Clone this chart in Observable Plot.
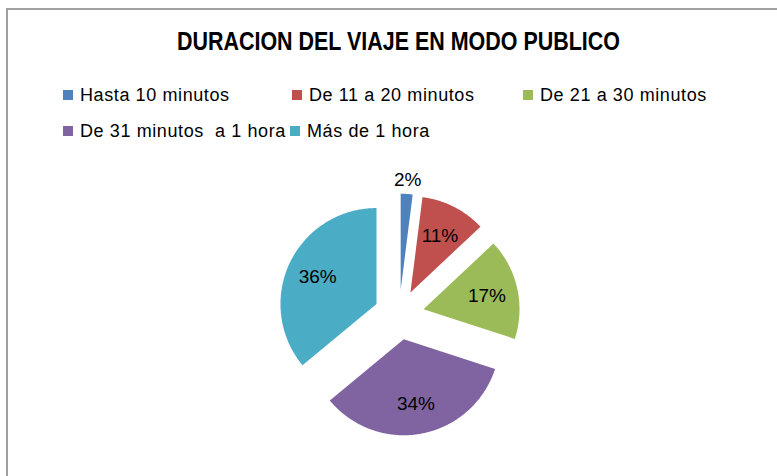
<!DOCTYPE html>
<html>
<head>
<meta charset="utf-8">
<script src="https://cdn.jsdelivr.net/npm/d3@7"></script>
<script src="https://cdn.jsdelivr.net/npm/@observablehq/plot@0.6"></script>
<style>
  html, body { margin: 0; padding: 0; background: #fff; width: 777px; height: 476px; overflow: hidden; position: relative; }
  #frame { position: absolute; left: 6px; top: 8px; width: 820px; height: 520px; border-top: 2px solid #a0a0a0; border-left: 2px solid #a0a0a0; box-sizing: border-box; }
  #titlewrap { position: absolute; left: 0; top: 28px; width: 797px; text-align: center; }
  #title { display: inline-block; transform: scaleX(0.825); transform-origin: center; font-family: "Liberation Sans", Arial, sans-serif; font-weight: bold; font-size: 26px; line-height: 26px; color: #000; white-space: pre; }
  .leg { position: absolute; font-family: "Liberation Sans", Arial, sans-serif; font-size: 18px; line-height: 18px; letter-spacing: 0.6px; color: #000; white-space: pre; display: flex; align-items: center; }
  .sw { width: 10px; height: 10px; margin-right: 7px; flex: none; }
  #chart { position: absolute; left: 0; top: 160px; }
</style>
</head>
<body>
<div id="frame"></div>
<div id="titlewrap"><span id="title"></span></div>
<div id="legend"></div>
<div id="chart"></div>
<script>
// ---- data ----
const title = "DURACION DEL VIAJE EN MODO PUBLICO";
const categories = ["Hasta 10 minutos", "De 11 a 20 minutos", "De 21 a 30 minutos", "De 31 minutos  a 1 hora", "Más de 1 hora"];
const values = [2, 11, 17, 34, 36];
const labels = ["2%", "11%", "17%", "34%", "36%"];
const colors = ["#4F81BD", "#C0504D", "#9BBB59", "#8064A2", "#4BACC6"];

// ---- title ----
document.getElementById("title").textContent = title;

// ---- legend (HTML, Excel-like layout) ----
const legend = document.getElementById("legend");
const legendPos = [[63, 86], [292, 86], [523, 86], [63, 122], [290, 122]];
categories.forEach((c, i) => {
  const d = document.createElement("div");
  d.className = "leg";
  d.style.left = legendPos[i][0] + "px";
  d.style.top = legendPos[i][1] + "px";
  const s = document.createElement("span");
  s.className = "sw";
  s.style.background = colors[i];
  d.appendChild(s);
  const t = document.createElement("span");
  t.textContent = c;
  d.appendChild(t);
  legend.appendChild(d);
});

// ---- pie geometry (in radius units) ----
const W = 777, H = 300;
const R = 96;            // pixel radius
const cx = 398.6, cy = 154.2; // pie center in svg px
const explode = 25 / R;  // explosion offset
const labelDist = 65 / R;
const outerLabelDist = 111 / R;

const arcs = d3.pie().sort(null).value(d => d)(values);
const polys = [];
const labelData = [];
arcs.forEach((a, i) => {
  const mid = (a.startAngle + a.endAngle) / 2;
  const ox = explode * Math.sin(mid), oy = explode * Math.cos(mid);
  polys.push({x: ox, y: oy, k: categories[i]});
  const n = Math.max(4, Math.ceil((a.endAngle - a.startAngle) / 0.01));
  for (let j = 0; j <= n; j++) {
    const t = a.startAngle + (a.endAngle - a.startAngle) * j / n;
    polys.push({x: ox + Math.sin(t), y: oy + Math.cos(t), k: categories[i]});
  }
  polys.push({x: ox, y: oy, k: categories[i]});
  const small = values[i] < 5;
  const L = small ? outerLabelDist : labelDist;
  labelData.push({x: ox + L * Math.sin(mid), y: oy + L * Math.cos(mid), text: labels[i]});
});

const plot = Plot.plot({
  width: W,
  height: H,
  margin: 0,
  x: {domain: [-cx / R, (W - cx) / R], range: [0, W], axis: null},
  y: {domain: [-(H - cy) / R, cy / R], range: [H, 0], axis: null},
  color: {domain: categories, range: colors},
  style: {background: "transparent", overflow: "visible"},
  marks: [
    Plot.line(polys, {x: "x", y: "y", z: "k", fill: "k", stroke: "none", curve: "linear"}),
    Plot.text(labelData, {x: "x", y: "y", text: "text", fontSize: 19, fill: "#000", fontFamily: "Liberation Sans, Arial, sans-serif", dy: 1})
  ]
});
document.getElementById("chart").appendChild(plot);
</script>
</body>
</html>
